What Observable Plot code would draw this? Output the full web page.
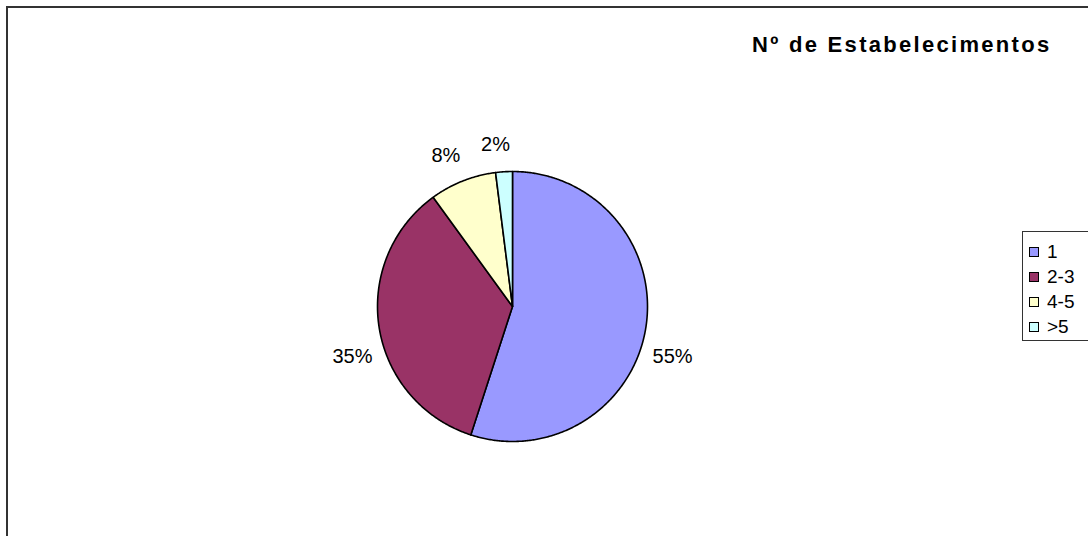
<!DOCTYPE html>
<html>
<head>
<meta charset="utf-8">
<script src="https://cdn.jsdelivr.net/npm/d3@7"></script>
<script src="https://cdn.jsdelivr.net/npm/@observablehq/plot@0.6"></script>
<style>
  html, body { margin: 0; padding: 0; background: #fff; }
  #wrap { position: relative; width: 1088px; height: 536px; overflow: hidden; font-family: "Liberation Sans", Arial, sans-serif; }
  #frame { position: absolute; left: 6px; top: 6px; width: 1200px; height: 700px; border: 2px solid #333; box-sizing: border-box; }
  #chart { position: absolute; left: 0; top: 0; }
  #title { position: absolute; left: 752px; top: 32px; font-size: 22px; font-weight: bold; letter-spacing: 2.3px; color: #000; white-space: nowrap; }
  #legend { position: absolute; left: 1022px; top: 231px; width: 100px; height: 110px; border: 1px solid #333; box-sizing: border-box; }
  .item { position: absolute; left: 6px; height: 20px; display: flex; align-items: center; font-size: 19px; color: #000; }
  .sw { width: 8px; height: 8px; border: 1.5px solid #000; margin-right: 8px; }
</style>
</head>
<body>
<div id="wrap">
  <div id="frame"></div>
  <div id="chart"></div>
  <div id="title">Nº de Estabelecimentos</div>
  <div id="legend"></div>
</div>
<script>
const categories = ["1", "2-3", "4-5", ">5"];
const values = [55, 35, 8, 2];
const labels = ["55%", "35%", "8%", "2%"];
const colors = ["#9999FF", "#993366", "#FFFFCC", "#CCFFFF"];

const total = d3.sum(values);
let acc = 0;
const slices = categories.map((c, i) => {
  const a0 = acc / total * 2 * Math.PI;
  acc += values[i];
  const a1 = acc / total * 2 * Math.PI;
  return {cat: c, label: labels[i], a0, a1, mid: (a0 + a1) / 2};
});

// polygon points for each slice (clockwise from 12 o'clock)
const pts = [];
for (const s of slices) {
  pts.push({cat: s.cat, x: 0, y: 0});
  const n = Math.max(2, Math.ceil((s.a1 - s.a0) / (Math.PI / 360)));
  for (let k = 0; k <= n; k++) {
    const a = s.a0 + (s.a1 - s.a0) * k / n;
    pts.push({cat: s.cat, x: Math.sin(a), y: Math.cos(a)});
  }
}

const labs = slices.map(s => {
  const sn = Math.sin(s.mid), cs = Math.cos(s.mid);
  const side = Math.min(1, Math.max(0, (Math.abs(sn) - 0.7) / 0.3));
  return {label: s.label, sn, x: 1.05 * sn - (Math.abs(sn) <= 0.3 ? 0.06 : 0), y: 1.2 * cs - 0.19 * side};
});

const textOpts = {x: "x", y: "y", text: "label", fontSize: 20, fill: "#000", lineAnchor: "middle", fontFamily: "Liberation Sans, Arial, sans-serif"};

const plot = Plot.plot({
  width: 1088,
  height: 536,
  x: {domain: [-1, 1], range: [377, 647], axis: null},
  y: {domain: [-1, 1], range: [441, 171], axis: null},
  color: {domain: categories, range: colors},
  marks: [
    Plot.line(pts, {x: "x", y: "y", z: "cat", fill: "cat", stroke: "#000", strokeWidth: 1.6, curve: "linear-closed", strokeLinejoin: "round"}),
    Plot.text(labs, {...textOpts, filter: d => d.sn > 0.3, textAnchor: "start"}),
    Plot.text(labs, {...textOpts, filter: d => d.sn < -0.3, textAnchor: "end"}),
    Plot.text(labs, {...textOpts, filter: d => Math.abs(d.sn) <= 0.3, textAnchor: "middle"})
  ]
});
document.getElementById("chart").appendChild(plot);

const leg = document.getElementById("legend");
categories.forEach((c, i) => {
  const it = document.createElement("div");
  it.className = "item";
  it.style.top = (10 + i * 25) + "px";
  const sw = document.createElement("div");
  sw.className = "sw";
  sw.style.background = colors[i];
  const t = document.createElement("span");
  t.textContent = c;
  it.appendChild(sw);
  it.appendChild(t);
  leg.appendChild(it);
});
</script>
</body>
</html>
